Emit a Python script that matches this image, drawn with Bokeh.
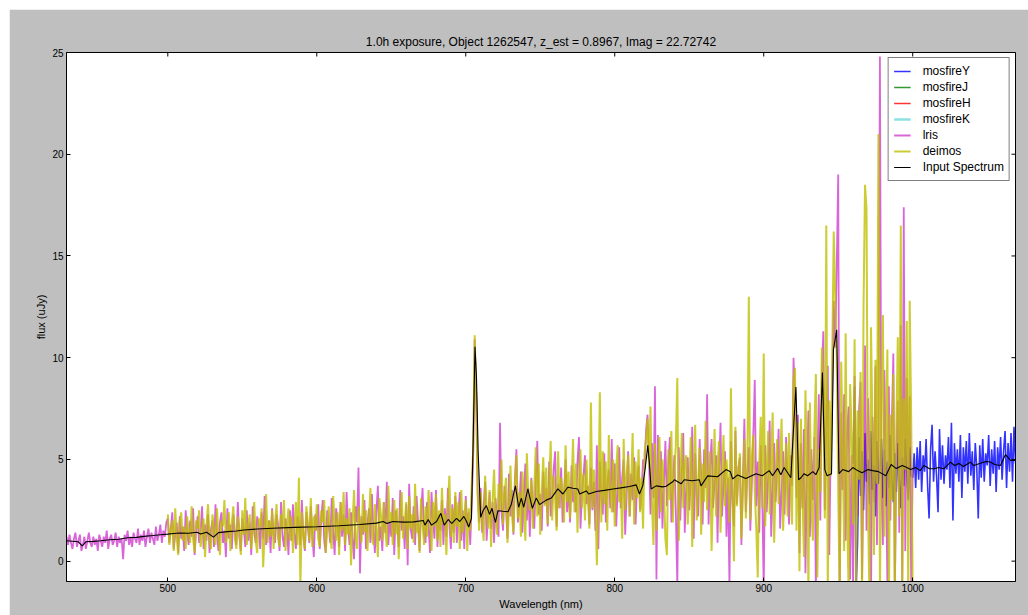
import math
import numpy as np
from bokeh.plotting import figure
from bokeh.models import Range1d, FixedTicker, Legend
from bokeh.embed import file_html
from bokeh.resources import INLINE

TITLE = "1.0h exposure, Object 1262547, z_est = 0.8967, Imag = 22.72742"
X_LABEL = "Wavelength (nm)"
Y_LABEL = "flux (uJy)"
X_TICKS = [500, 600, 700, 800, 900, 1000]
Y_TICKS = [0, 5, 10, 15, 20, 25]

# ---- lris (432-1000 nm, 1 nm sampling) ----
lris_wave = np.arange(432, 1001, 1)
lris_flux = [
    # 432-499
    1.2, 0.8, 1.3, 0.9, 0.6, 1.1, 1.4, 0.7, 1.0, 1.3,
    0.5, 0.8, 1.2, 0.6, 1.0, 1.4, 0.9, 0.7, 1.2, 0.8,
    1.1, 0.5, 1.3, 1.0, 0.7, 1.2, 0.9, 1.5, 0.6, 1.1,
    1.3, 0.8, 1.0, 1.4, 0.7, 1.2, 0.9, 1.1, 0.1, 1.3,
    1.0, 1.5, 0.8, 1.2, 0.7, 1.4, 1.1, 0.9, 1.6, 0.8,
    1.3, 1.0, 1.5, 0.7, 1.2, 1.6, 0.9, 1.4, 1.1, 0.8,
    1.7, 1.0, 1.3, 1.8, 0.9, 1.5, 1.2, 1.9,
    # 500-599
    2.1, 0.9, 1.6, 2.4, 0.6, 1.3, 1.9, 0.4, 2.2, 1.1,
    1.7, 0.5, 2.5, 1.4, 0.8, 2.0, 1.2, 2.6, 0.3, 1.5,
    2.2, 0.9, 1.4, 2.7, 0.6, 1.8, 1.0, 2.3, 0.4, 1.6,
    2.0, 0.7, 2.8, 1.3, 0.5, 1.9, 2.4, 0.9, 1.5, 0.2,
    2.6, 1.1, 1.8, 0.6, 2.3, 1.4, 0.8, 2.9, 1.2, 0.5,
    2.1, 1.6, 0.7, 2.5, 1.0, 1.9, 0.3, 2.7, 1.4, 0.9,
    2.2, 1.7, 0.6, 2.4, 1.1, 3.2, 0.8, 1.5, 2.0, 0.4,
    2.6, 1.3, 0.9, 2.3, 1.8, 0.5, 2.9, 1.2, 0.7, 2.1,
    1.6, 0.3, 2.5, 1.0, 2.8, 1.4, 0.6, 2.2, 1.9, 0.8,
    3.0, 1.2, 0.5, 2.4, 1.7, 0.9, 2.7, 1.3, 0.2, 2.3,
    # 600-704
    1.5, 2.8, 0.6, 2.1, 3.0, 1.0, 0.4, 2.5, 1.8, 0.9,
    3.1, 1.4, 0.3, 2.6, 1.9, 0.7, 2.9, 1.2, 2.3, 0.5,
    3.4, 1.6, 0.8, 2.4, 1.1, 0.1, 2.7, 1.9, 4.6, -0.6,
    2.2, 1.3, 3.0, 0.6, 1.8, 2.6, 0.9, 3.3, 1.5, 0.4,
    2.4, 3.7, 1.0, 1.7, 0.5, 2.9, 1.4, 3.9, 0.8, 2.0,
    1.2, 3.1, 0.3, 2.5, 1.8, 0.7, 3.5, 1.5, 2.2, 0.6,
    2.8, -0.2, 3.8, 1.6, 1.1, 2.7, 0.8, 3.2, 1.9, 0.5,
    2.4, 3.6, 1.3, 0.9, 2.9, 1.7, 0.4, 3.4, 2.0, 1.1,
    3.5, 0.7, 2.3, 1.5, 3.0, 0.8, 2.6, 1.2, 3.6, 1.8,
    0.6, 2.8, 1.4, 3.2, 0.9, 2.2, 3.4, 1.0, 2.5, 0.6,
    3.2, 1.7, 2.4, 0.8, 2.9,
    # 705-709 (emission line)
    5.2, 10.9, 8.3, 3.4, 1.9,
    # 710-820
    3.6, 1.4, 2.7, 3.9, 1.0, 2.3, 3.4, 1.6, 2.9, 0.9,
    3.1, 2.0, 1.2, 6.8, 2.4, 1.5, 3.7, 2.6, 1.1, 4.3,
    2.2, 3.5, 1.3, 4.0, 5.5, 1.9, 2.8, 4.4, 1.4, 3.2,
    4.8, 2.0, 3.6, 1.2, 4.1, 2.7, 1.6, 3.9, 5.9, 2.3,
    3.3, 1.5, 4.4, 2.8, 3.6, 1.7, 4.9, 2.2, 3.0, 4.5,
    5.4, 1.7, 3.8, 2.6, 4.6, 1.9, 3.3, 5.0, 2.4, 3.7,
    1.9, 4.7, 2.9, 3.5, 2.4, 4.9, 6.1, 1.6, 3.4, 4.2,
    5.2, 2.8, 3.7, 1.8, 4.6, 2.5, 3.9, 1.5, 5.7, 0.6,
    4.9, 3.1, 2.3, 5.3, 1.9, 3.8, 4.5, 2.6, 6.0, 2.4,
    4.8, 1.7, 3.6, 5.6, 2.6, 4.1, 5.0, 1.3, 3.2, 5.4,
    2.2, 4.3, 3.0, 5.1, 1.8, 3.9, 4.7, 2.5, 3.4, 5.0,
    4.5,
    # 821-919
    6.4, 7.2, 5.0, 2.3, 5.8, 3.1, 8.6, -0.9, 6.2, 2.1,
    5.4, 1.6, 3.8, 5.9, 2.7, 4.8, 6.1, 1.9, 3.5, 5.2,
    2.4, -1.2, 5.6, 2.0, 4.4, 6.3, 1.4, 3.7, 5.1, 2.5,
    4.0, 6.6, 1.1, 5.3, 3.2, 2.2, 6.0, 4.3, 1.8, 5.5,
    3.6, 8.2, 1.8, 4.7, 6.0, 2.6, 3.9, 5.2, 0.9, 4.5,
    6.8, 2.2, 3.7, 5.4, 1.2, 4.1, -1.3, 5.9, 3.0, 1.7,
    6.4, 2.8, 4.6, 5.1, 0.8, 3.9, 7.0, 2.4, 4.4, 5.6,
    1.5, 3.8, 6.2, 8.9, 2.7, 4.9, 1.4, 5.7, 3.3, -1.5,
    5.7, 2.4, 4.2, 6.9, 1.2, 3.6, 5.8, 2.9, 4.7, 6.5,
    1.6, 3.4, 5.4, 2.3, 6.1, 4.0, 1.8, 5.2, 3.7,
    # 920-1000
    10.0, 8.0, 3.1, 7.2, 0.4, 5.8, 2.6, 6.5, -0.6, 4.3,
    7.4, 1.2, 5.5, 3.0, 6.1, -1.5, 4.8, 8.2, 2.0, 9.0,
    11.3, 2.5, 6.7, 9.6, 0.3, 5.9, 8.4, 12.8, 10.5, 14.5,
    19.0, -1.8, 7.3, 3.5, 8.2, 1.0, 6.4, 7.6, -0.9, 5.2,
    -1.4, 9.1, 3.8, 2.2, 7.5, 8.8, -0.9, 4.6, 10.6, 1.5,
    8.0, 5.3, -2.0, 7.1, 2.9, 9.6, 0.8, 6.2, 24.8, 3.6,
    0.8, 9.4, 4.7, -1.1, 8.6, 2.0, 6.8, 10.2, -1.6, 5.1,
    7.9, 1.4, 11.6, -1.0, 17.4, 0.5, 9.0, 3.2, 8.1, -1.3,
    4.6,
]

# ---- deimos (500-1000 nm, 1 nm sampling) ----
deimos_wave = np.arange(500, 1001, 1)
deimos_flux = [
    # 500-599
    2.3, 0.8, 1.5, 2.0, 0.5, 2.6, 1.2, 0.3, 1.9, 2.4,
    1.0, 1.7, 0.6, 2.2, 1.4, 0.9, 2.7, 1.1, 0.4, 2.0,
    1.6, 2.5, 0.7, 1.3, 2.1, 0.2, 1.8, 2.8, 1.0, 0.6,
    2.3, 1.5, 0.8, 2.6, 1.2, 0.3, 2.0, 1.7, 3.0, 0.9,
    1.4, 2.4, 0.5, 1.9, 2.7, 1.1, 0.6, 2.2, 1.6, 0.3,
    2.5, 1.3, 3.1, 0.8, 1.8, 2.3, 0.6, 1.5, 2.9, 1.0,
    0.4, 2.1, 1.7, 2.6, -0.3, 1.4, 3.3, 0.9, 2.0, 1.2,
    2.5, 0.6, 1.9, 2.8, 1.1, 0.7, 2.3, 1.6, 3.0, 0.5,
    1.8, 2.6, 1.0, 2.2, 0.4, 1.5, 2.9, 0.8, 4.1, -1.2,
    2.4, 1.3, 0.6, 2.7, 1.9, 1.0, 3.1, 0.7, 2.2, 1.5,
    # 600-704
    2.8, 1.1, 0.7, 2.5, 1.9, 3.0, 0.4, 1.6, 2.7, 1.2,
    0.6, 3.2, 2.0, 1.0, 2.4, 0.3, 2.9, 1.5, 3.4, 0.8,
    2.1, 1.3, 2.6, -0.2, 1.8, 3.5, 1.1, 0.6, 2.7, 1.9,
    0.9, 3.3, 1.4, 2.5, 0.5, 2.0, 3.6, 1.2, 0.8, 2.8,
    1.6, 0.2, 3.1, 2.3, 1.0, 2.9, 1.5, 0.7, 3.7, 1.9,
    2.4, 0.8, 3.0, 1.3, 2.6, 0.1, 2.2, 3.4, 1.1, 1.8,
    2.9, 0.6, 3.2, 1.6, 2.3, 0.9, 3.8, 1.4, 2.0, 0.4,
    3.1, 1.9, 0.8, 2.7, 1.2, 3.5, 2.2, 0.5, 2.9, 1.7,
    3.3, 1.0, 2.5, 0.7, 3.6, 1.8, 2.3, 0.3, 2.8, 4.2,
    1.2, 2.6, 0.9, 3.4, 1.7, 2.9, 0.6, 3.5, 1.4, 2.1,
    3.0, 0.5, 2.6, 1.5, 3.8,
    # 705-709 (emission line)
    5.5, 11.1, 8.0, 3.2, 1.5,
    # 710-820
    3.4, 2.0, 1.0, 4.2, 2.7, 1.6, 3.5, 0.7, 2.9, 4.5,
    2.0, 1.3, 3.8, 2.5, 5.0, 1.8, 3.2, 4.1, 0.9, 2.6,
    4.7, 2.3, 1.4, 3.9, 5.2, 2.1, 3.4, 1.2, 4.4, 2.8,
    1.0, 5.3, 3.1, 2.5, 4.0, 1.6, 3.6, 5.6, 2.2, 4.8,
    1.3, 3.3, 5.1, 2.7, 4.6, 1.8, 3.8, 5.9, 2.0, 4.2,
    3.0, 1.5, 5.4, 2.6, 4.1, 3.5, 1.9, 5.7, 2.9, 4.4,
    2.1, 3.7, 6.0, 2.4, 4.8, 1.4, 3.9, 5.5, 2.6, 4.3,
    2.0, 5.0, 3.2, 1.6, 7.8, 2.6, 4.5, 3.0, -0.2, 2.7,
    8.3, 1.9, 5.4, 2.8, 4.9, 1.5, 6.2, 3.6, 2.4, 5.0,
    1.7, 4.6, 5.7, 2.9, 3.8, 1.1, 6.0, 2.5, 4.3, 5.2,
    2.2, 3.7, 6.3, 1.8, 4.9, 3.1, 5.5, 2.4, 4.1, 1.6,
    5.3,
    # 821-919
    6.0, 7.0, 4.6, 7.6, 2.8, 0.8, 5.8, 1.5, 4.2, 6.1,
    2.4, 5.0, 3.6, 1.1, 0.3, 5.5, 3.0, 6.4, 1.9, 4.4,
    5.7, 9.0, 1.0, 3.8, 6.3, 2.6, 4.9, 5.2, 1.8, 3.4,
    6.1, 0.7, 4.5, 6.7, 2.0, 3.9, 5.6, 1.3, 4.8, 2.9,
    6.9, 2.5, 4.1, 5.4, 0.5, 3.6, 6.5, 2.2, 4.7, 5.9,
    1.4, 3.8, 6.2, 2.7, 5.0, 4.0, 1.9, 8.5, 3.3, 0.0,
    6.6, 2.7, 4.3, 5.3, 1.1, 3.5, 6.0, 2.1, 4.6, 13.0,
    2.0, 5.1, 6.2, 3.4, 1.6, -0.8, 4.8, 7.1, 2.6, 10.2,
    1.7, 4.5, 6.4, 2.3, 5.0, 7.3, 0.9, 3.8, 6.0, 2.8,
    4.9, 7.0, 1.5, 3.6, 5.8, 2.2, 6.3, 4.1, 1.8,
    # 920-1000
    8.9, 9.5, 1.5, 6.8, -0.5, 7.0, 3.2, 0.2, 8.4, 5.1,
    -1.5, 7.8, 2.6, 1.0, 6.4, 9.2, -0.8, 5.5, 3.4, 10.5,
    8.6, 2.1, 16.5, -1.8, 7.9, 4.2, 10.1, 16.2, 13.0, 10.0,
    3.6, -2.0, 9.8, 5.7, 0.5, 11.2, 2.4, -1.6, 8.7, 6.3,
    1.8, 10.9, -1.2, 7.4, 4.0, 9.3, -2.1, 12.5, 18.5, 17.3,
    2.7, -2.2, 11.5, 6.6, 0.3, 9.9, 3.8, 21.0, -1.9, 8.3,
    12.1, 1.2, 5.9, 10.4, -2.3, 7.2, 3.0, 9.2, -1.7, 6.5,
    11.0, 2.2, 16.5, -1.0, 8.0, 4.5, 11.8, -2.0, 12.8, 6.9,
    -1.5,
]

# ---- mosfireY (960-1069 nm, 1 nm sampling) ----
mosfireY_wave = np.arange(960, 1070, 1)
mosfireY_flux = [
    # 960-999
    4.8, 8.6, -1.5, 1.0, 6.1, 3.2, 5.4, 2.5, 6.3, 3.9,
    5.0, 2.8, 6.4, 3.5, 4.7, 2.2, 5.9, 3.8, 4.4, 6.0,
    3.1, 5.5, 2.7, 4.9, 3.6, 6.2, 4.1, 2.9, 5.3, 3.4,
    5.8, 4.0, 2.6, 5.1, 3.7, 6.0, 4.3, 3.0, 5.6, 4.2,
    # 1000-1069
    4.1, 5.3, 3.6, 5.6, 4.0, 5.9, 3.4, 5.2, 4.4, 6.0,
    3.7, 2.1, 5.5, 6.7, 3.9, 5.4, 4.2, 2.4, 6.5, 4.0,
    5.7, 3.8, 5.2, 4.5, 6.1, 3.6, 6.8, 2.0, 5.8, 4.3,
    5.5, 3.9, 6.2, 3.1, 5.6, 4.4, 5.9, 3.8, 6.3, 4.2,
    5.4, 3.5, 5.8, 4.6, 2.1, 5.7, 4.1, 6.0, 3.9, 5.3,
    4.7, 6.2, 3.7, 5.5, 4.3, 5.9, 3.4, 5.6, 4.5, 6.1,
    4.0, 5.4, 6.4, 3.6, 5.8, 4.4, 6.3, 3.9, 6.6, 4.8,
]

# ---- mosfireJ / H / K: no coverage inside this wavelength window ----
NAN = float("nan")
mosfireJ_wave, mosfireJ_flux = [NAN], [NAN]
mosfireH_wave, mosfireH_flux = [NAN], [NAN]
mosfireK_wave, mosfireK_flux = [NAN], [NAN]

# ---- input spectrum ----
input_wave = [
    432, 436, 440, 442.5, 445, 450, 455, 461, 467, 473, 479, 484, 490, 495, 500, 504, 508, 514, 519.6, 522,
    526, 530.7, 534, 540, 546, 551, 560, 570, 585, 600, 615, 629, 640, 644.6, 647, 651, 658, 665, 671.5, 672.6,
    674.8, 677, 680.4, 683.3, 685.5, 688.2, 690.5, 693.8, 696, 698.7, 700.4, 702, 703.8, 705, 706.2, 707.2, 708.3, 710, 711.6, 713.8,
    716, 717.6, 719.9, 721.6, 725, 728.4, 730.6, 733.3, 735.5, 737.3, 738.9, 741.7, 744.7, 747.3, 749.5, 754, 757.4, 761.8, 765.2, 768.5,
    772, 775.2, 776.4, 780.9, 782.5, 787.6, 793, 798.8, 804, 810, 814.4, 816.6, 818.8, 820.5, 822.2, 823.3, 824.4, 827.8, 832.2, 834.5,
    838.9, 840, 844.5, 846.7, 852, 856.8, 857.9, 862.4, 869, 874.7, 877.6, 879.1, 882.5, 888, 894.8, 899, 903.7, 905.9, 909.3, 911.5,
    913.7, 918.2, 920, 921.6, 923.4, 925, 927.1, 929.4, 933, 935, 937.2, 939.4, 941, 942.5, 945.5, 946.8, 949, 950.5, 953, 957,
    959.8, 963, 966, 970, 973.2, 977, 982, 985.5, 989, 993, 996, 998.7, 1002, 1005, 1007.5, 1011, 1014.2, 1017.5, 1020.9, 1025.4,
    1028, 1031, 1034, 1038.8, 1041, 1045, 1049, 1052.2, 1055, 1058.9, 1062.3, 1065.6, 1069,
]
input_flux = [
    1.00, 0.98, 0.95, 0.75, 0.95, 0.97, 1.00, 1.05, 1.08, 1.15, 1.17, 1.22, 1.26, 1.30, 1.33, 1.36, 1.38, 1.37, 1.42, 1.33,
    1.42, 1.18, 1.40, 1.45, 1.48, 1.53, 1.58, 1.62, 1.66, 1.69, 1.74, 1.80, 1.87, 1.95, 1.85, 1.95, 1.92, 1.93, 2.00, 1.77,
    2.04, 1.77, 1.95, 2.35, 1.77, 2.05, 1.85, 2.10, 1.95, 2.20, 1.97, 1.68, 2.10, 6.0, 10.54, 9.0, 5.4, 2.15, 2.48, 2.73,
    2.30, 2.60, 1.90, 2.48, 2.45, 2.43, 2.80, 3.70, 2.65, 3.10, 2.65, 3.55, 2.60, 3.10, 2.78, 3.00, 3.10, 3.55, 3.30, 3.63,
    3.58, 3.55, 3.30, 3.45, 3.30, 3.42, 3.48, 3.55, 3.60, 3.67, 3.75, 3.30, 3.70, 4.6, 5.69, 4.8, 3.55, 3.70, 3.65, 3.68,
    3.90, 4.00, 3.80, 4.00, 3.95, 4.00, 3.70, 4.19, 4.15, 4.50, 4.40, 4.04, 4.24, 4.06, 4.30, 4.20, 4.45, 4.20, 4.56, 4.25,
    4.60, 4.10, 6.5, 8.56, 4.00, 4.10, 4.30, 4.20, 4.40, 4.25, 4.60, 9.27, 4.50, 4.20, 4.30, 10.4, 11.37, 4.30, 4.50, 4.40,
    4.60, 4.45, 4.35, 4.50, 4.45, 4.40, 4.20, 4.75, 4.55, 4.70, 4.60, 4.50, 4.60, 4.45, 4.70, 4.55, 4.54, 4.60, 4.54, 4.87,
    4.70, 4.80, 4.65, 4.87, 4.70, 4.80, 4.90, 4.87, 4.75, 4.70, 5.24, 4.95, 4.95,
]

assert len(lris_wave) == len(lris_flux), (len(lris_wave), len(lris_flux))
assert len(deimos_wave) == len(deimos_flux), (len(deimos_wave), len(deimos_flux))
assert len(mosfireY_wave) == len(mosfireY_flux), (len(mosfireY_wave), len(mosfireY_flux))
assert len(input_wave) == len(input_flux), (len(input_wave), len(input_flux))

FONT = "Liberation Sans"
X0, X1 = 432, 1069
Y0, Y1 = -1, 25

p = figure(
    width=1019, height=606,
    x_range=Range1d(X0, X1), y_range=Range1d(Y0, Y1),
    output_backend="svg", toolbar_location=None,
    min_border_left=57, min_border_right=13, min_border_top=43, min_border_bottom=34,
    title=TITLE,
)
p.margin = (9, 0, 0, 9)
p.border_fill_color = "#bfbfbf"
p.background_fill_color = "white"
p.outline_line_color = "black"
p.outline_line_width = 1
p.xgrid.visible = False
p.ygrid.visible = False

p.title.text_font = FONT
p.title.text_font_size = "12px"
p.title.text_font_style = "normal"
p.title.text_color = "black"
p.title.align = "center"
p.title.standoff = 8

for ax in p.xaxis + p.yaxis:
    ax.major_tick_in = 4
    ax.major_tick_out = 0
    ax.minor_tick_in = 0
    ax.minor_tick_out = 0
    ax.major_label_text_font = FONT
    ax.major_label_text_font_size = "10px"
    ax.major_label_text_color = "black"
    ax.axis_label_text_font = FONT
    ax.axis_label_text_font_size = "11px"
    ax.axis_label_text_font_style = "normal"
    ax.axis_label_text_color = "black"
    ax.axis_line_color = "black"
    ax.major_tick_line_color = "black"

p.xaxis.ticker = FixedTicker(ticks=X_TICKS)
p.yaxis.ticker = FixedTicker(ticks=Y_TICKS)
p.xaxis.axis_label = X_LABEL
p.yaxis.axis_label = Y_LABEL
p.xaxis.major_label_standoff = 2
p.xaxis.axis_label_standoff = 3
p.yaxis.major_label_standoff = 3
p.yaxis.axis_label_standoff = 2

rY = p.line(mosfireY_wave, mosfireY_flux, color="#0000ff", line_width=1.6, alpha=0.8)
rJ = p.line(mosfireJ_wave, mosfireJ_flux, color="#008000", line_width=1.3, alpha=0.8)
rH = p.line(mosfireH_wave, mosfireH_flux, color="#ff0000", line_width=1.3, alpha=0.8)
rK = p.line(mosfireK_wave, mosfireK_flux, color="#00bfbf", line_width=2.5, alpha=0.45)
rL = p.line(lris_wave, lris_flux, color="#bf00bf", line_width=1.8, alpha=0.6)
rD = p.line(deimos_wave, deimos_flux, color="#bfbf00", line_width=2.0, alpha=0.8)
rI = p.line(input_wave, input_flux, color="black", line_width=1.1, alpha=1.0)

# inward tick marks on the top and right frame edges (half of each dash is clipped by the frame)
p.scatter(X_TICKS, [Y1] * len(X_TICKS), marker="dash", angle=math.pi / 2, size=8,
          line_color="black", line_width=1)
p.scatter([X1] * len(Y_TICKS), Y_TICKS, marker="dash", size=8,
          line_color="black", line_width=1)

legend = Legend(items=[
    ("mosfireY", [rY]), ("mosfireJ", [rJ]), ("mosfireH", [rH]), ("mosfireK", [rK]),
    ("lris", [rL]), ("deimos", [rD]), ("Input Spectrum", [rI]),
], location="top_right")
legend.margin = 5
legend.padding = 5
legend.spacing = 0
legend.glyph_width = 17
legend.glyph_height = 16
legend.label_height = 16
legend.label_standoff = 12
legend.label_text_font = FONT
legend.label_text_font_size = "12px"
legend.label_text_color = "black"
legend.border_line_color = "black"
legend.border_line_width = 1
legend.background_fill_color = "white"
legend.background_fill_alpha = 1
p.add_layout(legend)

open("out.html", "w").write(file_html(p, INLINE))
